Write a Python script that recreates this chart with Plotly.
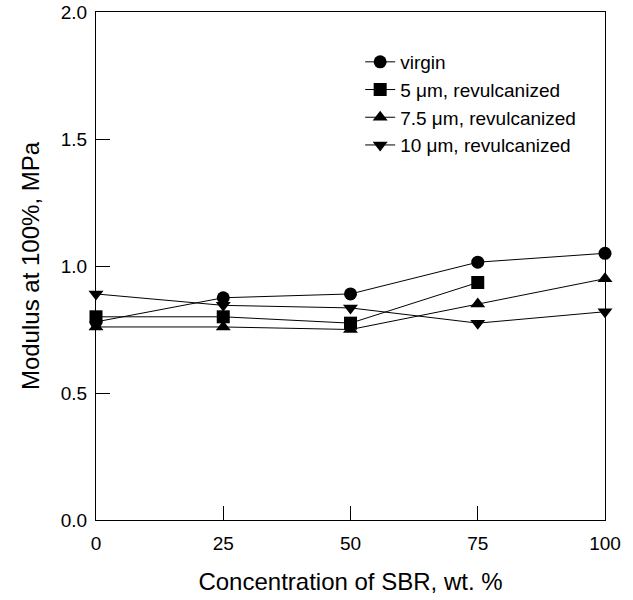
import plotly.graph_objects as go

conc = [0, 25, 50, 75, 100]
virgin = [0.78, 0.875, 0.89, 1.015, 1.05]
um5 = [0.80, 0.80, 0.775, 0.935, None]
um75 = [0.76, 0.76, 0.75, 0.85, 0.95]
um10 = [0.89, 0.845, 0.835, 0.775, 0.82]

x_ticks = [0, 25, 50, 75, 100]
y_ticks = [0, 0.5, 1.0, 1.5, 2.0]
y_ticktext = ["0.0", "0.5", "1.0", "1.5", "2.0"]

series = [
    ("virgin", virgin, "circle"),
    ("5 \u03bcm, revulcanized", um5, "square"),
    ("7.5 \u03bcm, revulcanized", um75, "triangle-up"),
    ("10 \u03bcm, revulcanized", um10, "triangle-down"),
]

fig = go.Figure()
for name, vals, sym in series:
    fig.add_trace(go.Scatter(
        x=conc, y=vals, name=name, mode="lines+markers",
        line=dict(color="black", width=1),
        marker=dict(symbol=sym, size=13, color="black"),
        connectgaps=False, cliponaxis=False,
    ))

font = "Liberation Sans, Arial, sans-serif"
fig.update_layout(
    width=633, height=600,
    margin=dict(l=96, r=28, t=12, b=80),
    paper_bgcolor="white", plot_bgcolor="white",
    font=dict(family=font, color="black", size=19),
    showlegend=True,
    legend=dict(x=0.519, y=0.939, xanchor="left", yanchor="top",
                bgcolor="rgba(0,0,0,0)", font=dict(size=19),
                tracegroupgap=0, itemwidth=30),
    xaxis=dict(range=[0, 100], tickvals=x_ticks,
               ticks="inside", ticklen=14, tickcolor="black",
               showline=True, linecolor="black", linewidth=1, mirror=True,
               showgrid=False, zeroline=False, ticklabelstandoff=6,
               automargin=False,
               title=dict(text="Concentration of SBR, wt. %", font=dict(size=24), standoff=20),
               tickfont=dict(size=19)),
    yaxis=dict(range=[0, 2.0], tickvals=y_ticks, ticktext=y_ticktext,
               ticks="inside", ticklen=14, tickcolor="black",
               showline=True, linecolor="black", linewidth=1, mirror=True,
               showgrid=False, zeroline=False, ticklabelstandoff=4,
               automargin=False,
               title=dict(text="Modulus at 100%, MPa", font=dict(size=24), standoff=14),
               tickfont=dict(size=19)),
)

fig.write_html("out.html")
